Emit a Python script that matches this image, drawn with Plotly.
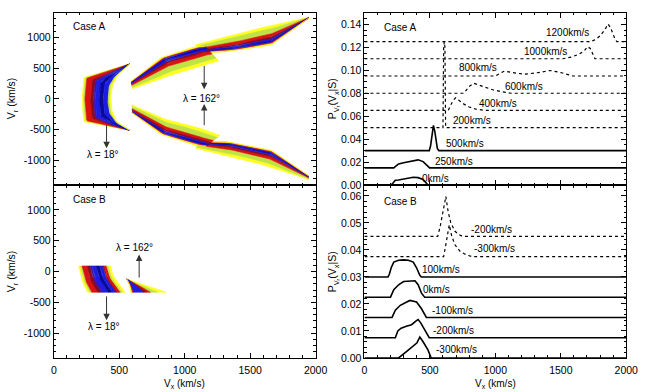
import numpy as np
import plotly.graph_objects as go

# ---------------- data: left panels (edges of the density regions) ----------------
# each region: "soft" (diffuse) edge and "sharp" edge, in (Vx, Vr) km/s
# Case A, lambda = 18 deg crescent
A18_SOFT_VX = [582, 433, 231, 222, 216, 222, 231, 433, 582]
A18_SOFT_VR = [570, 470, 352, 200, 0, -200, -370, -440, -510]
A18_SHARP_VX = [582, 483, 446, 433, 446, 483, 582]
A18_SHARP_VR = [570, 373, 213, 0, -213, -373, -510]
# Case A, lambda = 162 deg, upper arm (two pieces)
AU1_SOFT_VX = [600, 831, 1080, 1260]
AU1_SOFT_VR = [165, 347, 507, 620]
AU1_SHARP_VX = [590, 831, 1080, 1150]
AU1_SHARP_VR = [293, 690, 853, 865]
AU2_SOFT_VX = [1082, 1500, 1754, 1948]
AU2_SOFT_VR = [880, 1120, 1232, 1330]
AU2_SHARP_VX = [1120, 1351, 1664, 1948]
AU2_SHARP_VR = [745, 768, 880, 1312]
# Case A, lambda = 162 deg, lower arm
AL1_SOFT_VX = [600, 831, 1082, 1270]
AL1_SOFT_VR = [-100, -320, -448, -592]
AL1_SHARP_VX = [597, 831, 1104, 1160]
AL1_SHARP_VR = [-230, -592, -768, -775]
AL2_SOFT_VX = [1082, 1500, 1754, 1948]
AL2_SOFT_VR = [-800, -1008, -1168, -1312]
AL2_SHARP_VX = [1120, 1328, 1664, 1948]
AL2_SHARP_VR = [-690, -688, -832, -1248]
# Case B
B18_SOFT_VX = [189, 214, 259]
B18_SOFT_VR = [90, -149, -335]
B18_SHARP_VX = [433, 458, 520, 545]
B18_SHARP_VR = [90, -96, -256, -335]
B162_SOFT_VX = [557, 700, 860]
B162_SOFT_VR = [-122, -222, -335]
B162_SHARP_VX = [557, 570, 582, 587]
B162_SHARP_VR = [-122, -176, -256, -335]

# ---------------- data: right panels (distributions, relative to baseline) ----------------
A_NAMES = ["0km/s", "250km/s", "500km/s", "200km/s", "400km/s",
           "600km/s", "800km/s", "1000km/s", "1200km/s"]
A_BASE = [0.0, 0.015, 0.03, 0.05, 0.065, 0.08, 0.095, 0.11, 0.125]
A_DOTTED = [False, False, False, True, True, True, True, True, True]
A_VX = [
    [0, 204, 220, 236, 260, 286, 323, 373, 410, 448, 470, 485, 2000],
    [0, 224, 240, 261, 299, 323, 373, 410, 448, 473, 498, 2000],
    [0, 495, 505, 515, 527, 537, 547, 557, 568, 2000],
    [0, 600, 605, 610, 615, 620, 2000],
    [0, 640, 660, 680, 697, 720, 760, 800, 850, 920, 2000],
    [0, 759, 780, 805, 833, 870, 920, 980, 1050, 1119, 2000],
    [0, 1000, 1030, 1070, 1130, 1219, 1320, 1418, 1500, 1592, 2000],
    [0, 1517, 1580, 1640, 1680, 1704, 1725, 1745, 1761, 2000],
    [0, 1729, 1770, 1800, 1835, 1861, 1880, 1900, 1915, 1928, 2000],
]
A_P = [
    [0, 0, 0.002, 0.0043, 0.0045, 0.0051, 0.006, 0.0068, 0.0065, 0.005, 0.002, 0, 0],
    [0, 0, 0.0015, 0.0035, 0.0045, 0.005, 0.0065, 0.007, 0.0055, 0.003, 0, 0],
    [0, 0, 0.004, 0.014, 0.022, 0.017, 0.007, 0.002, 0, 0],
    [0, 0, 0.07, 0.075, 0.07, 0, 0],
    [0, 0, 0.005, 0.009, 0.011, 0.009, 0.0055, 0.003, 0.0012, 0, 0],
    [0, 0, 0.003, 0.0063, 0.0087, 0.0072, 0.005, 0.003, 0.0013, 0, 0],
    [0, 0, 0.002, 0.0043, 0.003, 0.0015, 0.0028, 0.0048, 0.003, 0, 0],
    [0, 0, 0.0015, 0.004, 0.007, 0.0105, 0.009, 0.004, 0, 0],
    [0, 0, 0.002, 0.005, 0.01, 0.0152, 0.012, 0.006, 0.002, 0, 0],
]

B_NAMES = ["-300km/s", "-200km/s", "-100km/s", "0km/s", "100km/s",
           "-300km/s", "-200km/s"]
B_BASE = [0.0, 0.0075, 0.015, 0.0225, 0.03, 0.0375, 0.045]
B_DOTTED = [False, False, False, False, False, True, True]
B_VX = [
    [0, 261, 323, 373, 400, 423, 448, 485, 510, 2000],
    [0, 236, 255, 280, 320, 360, 395, 410, 430, 460, 495, 2000],
    [0, 211, 236, 274, 323, 348, 398, 435, 473, 2000],
    [0, 199, 224, 261, 299, 348, 386, 410, 435, 460, 2000],
    [0, 180, 190, 205, 224, 261, 300, 336, 373, 398, 423, 435, 2000],
    [0, 605, 620, 635, 648, 665, 690, 730, 780, 825, 2000],
    [0, 560, 580, 600, 622, 640, 660, 690, 720, 750, 2000],
]
B_P = [
    [0, 0, 0.0024, 0.0043, 0.0055, 0.0077, 0.006, 0.003, 0, 0],
    [0, 0, 0.0025, 0.0035, 0.0042, 0.0048, 0.0062, 0.0067, 0.0055, 0.003, 0, 0],
    [0, 0, 0.0027, 0.0045, 0.0057, 0.0063, 0.0057, 0.0033, 0, 0],
    [0, 0, 0.0028, 0.0046, 0.0058, 0.0061, 0.0061, 0.0046, 0.0016, 0, 0],
    [0, 0, 0.001, 0.0035, 0.0055, 0.0062, 0.0063, 0.0062, 0.0055, 0.0034, 0.0006, 0, 0],
    [0, 0, 0.004, 0.009, 0.0118, 0.008, 0.0045, 0.002, 0.0006, 0, 0],
    [0, 0, 0.004, 0.009, 0.0148, 0.009, 0.005, 0.002, 0.0007, 0, 0],
]

# ---------------- styling ----------------
YEL, LIM, RED, DRD = "#ffff1e", "#bfe246", "#dc1212", "#8a0a1e"
PUR, BLU, NAV = "#4a12a0", "#1c1ce6", "#0a0a96"

PROFILE_18 = [(0.0, YEL), (0.05, LIM), (0.10, RED), (0.30, DRD), (0.40, PUR),
              (0.46, BLU), (0.60, NAV), (0.74, BLU), (0.90, LIM), (0.96, YEL)]
PROFILE_B18 = [(0.0, YEL), (0.06, LIM), (0.11, RED), (0.27, DRD), (0.36, PUR),
               (0.42, BLU), (0.55, NAV), (0.66, BLU), (0.76, DRD), (0.80, RED),
               (0.88, LIM), (0.94, YEL)]
PROFILE_ARM = [(0.0, YEL), (0.18, LIM), (0.46, RED), (0.62, DRD), (0.72, BLU),
               (0.80, NAV), (0.86, BLU), (0.91, RED), (0.96, YEL)]
PROFILE_B162 = [(0.0, YEL), (0.25, LIM), (0.45, RED), (0.56, DRD), (0.64, BLU),
                (0.93, RED), (0.97, YEL)]

FONT = "Liberation Sans, Arial, sans-serif"


def resample(vx, vr, n=80):
    x = np.asarray(vx, float)
    y = np.asarray(vr, float)
    seg = np.hypot(np.diff(x) / 7.46, np.diff(y) / 16.0)
    s = np.concatenate([[0], np.cumsum(seg)])
    s /= s[-1]
    t = np.linspace(0, 1, n)
    return np.interp(t, s, x), np.interp(t, s, y)


def add_region(fig, soft, sharp, profile, xa, ya):
    sx, sy = resample(*soft)
    hx, hy = resample(*sharp)
    stops = [p[0] for p in profile] + [1.0]
    for i, (f0, col) in enumerate(profile):
        f1 = stops[i + 1]
        ax_ = sx + f0 * (hx - sx)
        ay_ = sy + f0 * (hy - sy)
        bx_ = sx + f1 * (hx - sx)
        by_ = sy + f1 * (hy - sy)
        px = np.concatenate([ax_, bx_[::-1], ax_[:1]])
        py = np.concatenate([ay_, by_[::-1], ay_[:1]])
        fig.add_trace(go.Scatter(x=px, y=py, mode="lines", fill="toself",
                                 fillcolor=col, line=dict(color=col, width=0.6),
                                 hoverinfo="skip", showlegend=False,
                                 xaxis=xa, yaxis=ya))


fig = go.Figure()

# left panels
add_region(fig, (A18_SOFT_VX, A18_SOFT_VR), (A18_SHARP_VX, A18_SHARP_VR), PROFILE_18, "x", "y")
add_region(fig, (AU2_SOFT_VX, AU2_SOFT_VR), (AU2_SHARP_VX, AU2_SHARP_VR), PROFILE_ARM, "x", "y")
add_region(fig, (AU1_SOFT_VX, AU1_SOFT_VR), (AU1_SHARP_VX, AU1_SHARP_VR), PROFILE_ARM, "x", "y")
add_region(fig, (AL2_SOFT_VX, AL2_SOFT_VR), (AL2_SHARP_VX, AL2_SHARP_VR), PROFILE_ARM, "x", "y")
add_region(fig, (AL1_SOFT_VX, AL1_SOFT_VR), (AL1_SHARP_VX, AL1_SHARP_VR), PROFILE_ARM, "x", "y")
add_region(fig, (B18_SOFT_VX, B18_SOFT_VR), (B18_SHARP_VX, B18_SHARP_VR), PROFILE_B18, "x3", "y3")
add_region(fig, (B162_SOFT_VX, B162_SOFT_VR), (B162_SHARP_VX, B162_SHARP_VR), PROFILE_B162, "x3", "y3")

# right panels
for vx, p, base, dot in zip(A_VX, A_P, A_BASE, A_DOTTED):
    fig.add_trace(go.Scatter(x=vx, y=[base + v for v in p], mode="lines",
                             line=dict(color="black", width=1.2 if dot else 1.6,
                                       dash="dot" if dot else "solid"),
                             showlegend=False, hoverinfo="skip",
                             xaxis="x2", yaxis="y2"))
for vx, p, base, dot in zip(B_VX, B_P, B_BASE, B_DOTTED):
    fig.add_trace(go.Scatter(x=vx, y=[base + v for v in p], mode="lines",
                             line=dict(color="black", width=1.2 if dot else 1.6,
                                       dash="dot" if dot else "solid"),
                             showlegend=False, hoverinfo="skip",
                             xaxis="x4", yaxis="y4"))


def axis(domain, rng, dtick, mdtick, anchor, labels, tickvals=None, ticktext=None):
    d = dict(domain=domain, range=rng, anchor=anchor, showline=True,
             linecolor="black", linewidth=1, mirror="ticks", ticks="inside",
             ticklen=5, tickwidth=1, tickcolor="black", showgrid=False,
             zeroline=False, showticklabels=labels, dtick=dtick,
             tickfont=dict(family=FONT, size=10.5, color="black"),
             minor=dict(ticks="inside", ticklen=2.5, dtick=mdtick,
                        tickcolor="black", showgrid=False))
    if tickvals is not None:
        d.update(tickmode="array", tickvals=tickvals, ticktext=ticktext)
    return d


LX = [0.08, 0.4923]
RX = [0.5692, 0.9815]
TY = [0.5204, 0.9668]
BY = [0.0727, 0.5204]
VX_T = [0, 500, 1000, 1500, 2000]
VX_L = ["0", "500", "1000", "1500", "2000"]
VR_T = [-1000, -500, 0, 500, 1000]
VR_L = ["-1000", "-500", "0", "500", "1000"]

fig.update_layout(
    width=650, height=392, margin=dict(l=0, r=0, t=0, b=0),
    paper_bgcolor="white", plot_bgcolor="white", showlegend=False,
    font=dict(family=FONT, size=10, color="black"),
    xaxis=axis(LX, [0, 2000], 500, 100, "y", False, VX_T, VX_L),
    yaxis=axis(TY, [-1400, 1400], 500, 100, "x", True, VR_T, VR_L),
    xaxis2=axis(RX, [0, 2000], 500, 100, "y2", False, VX_T, VX_L),
    yaxis2=axis(TY, [0, 0.15], 0.02, 0.005, "x2", True,
                [0, 0.02, 0.04, 0.06, 0.08, 0.10, 0.12, 0.14],
                ["0.00", "0.02", "0.04", "0.06", "0.08", "0.10", "0.12", "0.14"]),
    xaxis3=axis(LX, [0, 2000], 500, 100, "y3", True, VX_T, VX_L),
    yaxis3=axis(BY, [-1400, 1400], 500, 100, "x3", True, VR_T, VR_L),
    xaxis4=axis(RX, [0, 2000], 500, 100, "y4", True, VX_T, VX_L),
    yaxis4=axis(BY, [0, 0.064], 0.01, 0.002, "x4", True,
                [0, 0.01, 0.02, 0.03, 0.04, 0.05, 0.06],
                ["0.00", "0.01", "0.02", "0.03", "0.04", "0.05", "0.06"]),
)
fig.update_xaxes(ticklabelstandoff=2)

ann = []


def txt(x, y, s, xr, yr, anchor="center", size=10):
    ann.append(dict(x=x, y=y, text=s, xref=xr, yref=yr, showarrow=False,
                    xanchor=anchor, yanchor="middle",
                    font=dict(family=FONT, size=size, color="black")))


def arrow(x, y0, y1, xr, yr):
    ann.append(dict(x=x, y=y1, ax=x, ay=y0, xref=xr, yref=yr, axref=xr, ayref=yr,
                    text="", showarrow=True, arrowhead=2, arrowsize=1.3,
                    arrowwidth=1, arrowcolor="#333"))


# left panel labels
txt(130, 1170, "Case A", "x", "y", "left")
arrow(403, -400, -800, "x", "y")
txt(377, -900, "λ = 18°", "x", "y")
arrow(1149, 560, 160, "x", "y")
arrow(1149, -450, -80, "x", "y")
txt(1125, 11, "λ = 162°", "x", "y")
txt(130, 1160, "Case B", "x3", "y3", "left")
arrow(652, -122, 278, "x3", "y3")
txt(619, 395, "λ = 162°", "x3", "y3")
arrow(403, -378, -790, "x3", "y3")
txt(383, -885, "λ = 18°", "x3", "y3")

# right panel labels
txt(137, 0.137, "Case A", "x2", "y2", "left")
A_LAB_POS = [(428, 0.0057), (522, 0.021), (609, 0.036), (659, 0.0565), (858, 0.0714),
             (1057, 0.086), (709, 0.1023), (1206, 0.1166), (1368, 0.133)]
for name, (lx, ly) in zip(A_NAMES, A_LAB_POS):
    txt(lx, ly, name, "x2", "y2", "left")
txt(137, 0.058, "Case B", "x4", "y4", "left")
B_LAB_POS = [(535, 0.003), (510, 0.0103), (498, 0.0176), (435, 0.0255), (423, 0.0328),
             (821, 0.0404), (796, 0.0477)]
for name, (lx, ly) in zip(B_NAMES, B_LAB_POS):
    txt(lx, ly, name, "x4", "y4", "left")

# axis titles
for yc in (0.745, 0.2967):
    ann.append(dict(x=0.0154, y=yc, xref="paper", yref="paper", showarrow=False,
                    text="V<sub>r</sub> (km/s)", textangle=-90,
                    xanchor="center", yanchor="middle",
                    font=dict(family=FONT, size=10.5, color="black")))
    ann.append(dict(x=0.521, y=yc, xref="paper", yref="paper", showarrow=False,
                    text="P<sub>V<sub>r</sub></sub>(V<sub>x</sub>|S)", textangle=-90,
                    xanchor="center", yanchor="middle",
                    font=dict(family=FONT, size=10.5, color="black")))
for xc in (0.286, 0.775):
    ann.append(dict(x=xc, y=0.0135, xref="paper", yref="paper", showarrow=False,
                    text="V<sub>x</sub> (km/s)", xanchor="center", yanchor="middle",
                    yshift=-3, font=dict(family=FONT, size=10, color="black")))

fig.update_layout(annotations=ann)

fig.write_html("out.html", config={"displayModeBar": False},
               post_script="document.body.style.margin='0';")
